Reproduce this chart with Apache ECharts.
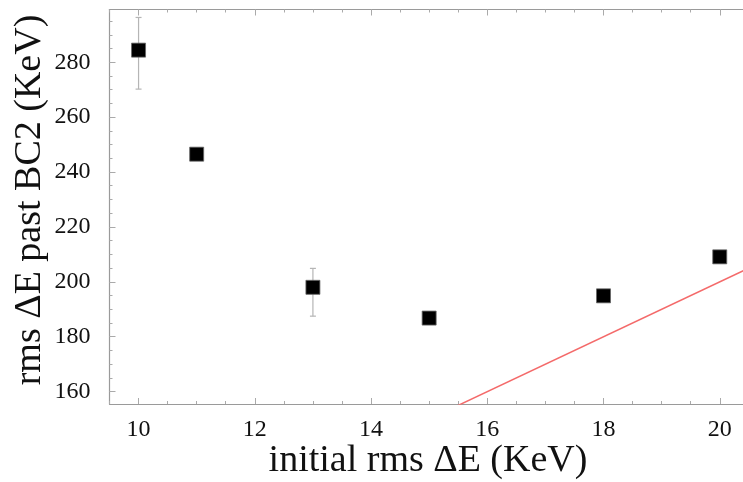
<!DOCTYPE html>
<html><head><meta charset="utf-8">
<script src="https://cdn.jsdelivr.net/npm/echarts@6/dist/echarts.min.js"></script>
<style>html,body{margin:0;padding:0;background:#fff}#c{width:743px;height:482px}</style>
</head><body><div id="c"></div>
<script>
// ---- data ----
const xValues = [10, 11, 13, 15, 18, 20];
const yValues = [284.4, 246.5, 198.0, 186.8, 194.9, 209.1];
const errLow  = [270.2, 245.3, 187.5, null, null, null];
const errHigh = [296.3, 247.6, 204.9, null, null, null];
const xTickLabels = [10, 12, 14, 16, 18, 20];
const yTickLabels = [160, 180, 200, 220, 240, 260, 280];
const xMinorTicks = [9.5, 10, 10.5, 11, 11.5, 12, 12.5, 13, 13.5, 14, 14.5, 15, 15.5, 16, 16.5, 17, 17.5, 18, 18.5, 19, 19.5, 20];
const yMinorTicks = [160, 165, 170, 175, 180, 185, 190, 195, 200, 205, 210, 215, 220, 225, 230, 235, 240, 245, 250, 255, 260, 265, 270, 275, 280, 285, 290, 295];
const refLineX = [15, 21];
const refLineY = [150, 210];
const xTitle = 'initial rms ΔE (KeV)';
const yTitle = 'rms ΔE past BC2 (KeV)';

const FONT = 'Liberation Serif';
const X_MIN = 9.5, X_MAX = 20.4, Y_MIN = 155.5, Y_MAX = 299.2;
const axisGray = '#9a9a9a';
const tickGray = '#aaaaaa';

function xAx(pos, custom, len, labels, line) {
  return {
    type: 'value', position: pos, min: X_MIN, max: X_MAX,
    axisLine: { show: line, onZero: false, lineStyle: { color: axisGray, width: 1.2 } },
    axisTick: { show: true, inside: true, length: len, customValues: custom, lineStyle: { color: tickGray } },
    axisLabel: labels ? { show: true, customValues: xTickLabels, margin: 14, fontFamily: FONT, fontSize: 24, color: '#111' } : { show: false },
    splitLine: { show: false }
  };
}
function yAx(custom, len, labels, line) {
  return {
    type: 'value', position: 'left', min: Y_MIN, max: Y_MAX,
    axisLine: { show: line, onZero: false, lineStyle: { color: axisGray, width: 1.2 } },
    axisTick: { show: true, inside: true, length: len, customValues: custom, lineStyle: { color: tickGray } },
    axisLabel: labels ? { show: true, customValues: yTickLabels, margin: 19, fontFamily: FONT, fontSize: 24, color: '#111', padding: [6, 0, 0, 0] } : { show: false },
    splitLine: { show: false }
  };
}

const chart = echarts.init(document.getElementById('c'));
chart.setOption({
  animation: false,
  backgroundColor: '#fff',
  grid: { left: 109.5, top: 9.5, width: 635, height: 394.5 },
  xAxis: [
    xAx('bottom', xTickLabels, 6, true, true),
    xAx('bottom', xMinorTicks, 3, false, false),
    xAx('top', xTickLabels, 6, false, true),
    xAx('top', xMinorTicks, 3, false, false)
  ],
  yAxis: [
    yAx(yTickLabels, 6, true, true),
    yAx(yMinorTicks, 3, false, false)
  ],
  graphic: [
    { type: 'text', x: 428, y: 461, style: { text: xTitle, x: 0, y: 0, align: 'center', verticalAlign: 'middle', font: '38px "Liberation Serif"', fill: '#111' } },
    { type: 'text', x: 30, y: 200, rotation: Math.PI / 2, style: { text: yTitle, x: 0, y: 0, align: 'center', verticalAlign: 'middle', font: '38px "Liberation Serif"', fill: '#111' } }
  ],
  series: [
    {
      type: 'line', xAxisIndex: 0, yAxisIndex: 0, clip: true, showSymbol: false, symbol: 'none',
      data: refLineX.map((x, i) => [x, refLineY[i]]),
      lineStyle: { color: '#f46a6a', width: 1.5 }, z: 1
    },
    {
      type: 'custom', xAxisIndex: 0, yAxisIndex: 0, z: 2,
      data: xValues.map((x, i) => [x, errLow[i], errHigh[i]]).filter(d => d[1] != null),
      renderItem: function (params, api) {
        const x = api.value(0);
        const lo = api.coord([x, api.value(1)]);
        const hi = api.coord([x, api.value(2)]);
        const st = { stroke: '#b5b5b5', lineWidth: 1.2 };
        return {
          type: 'group', children: [
            { type: 'line', shape: { x1: lo[0], y1: lo[1], x2: hi[0], y2: hi[1] }, style: st },
            { type: 'line', shape: { x1: lo[0] - 3, y1: lo[1], x2: lo[0] + 3, y2: lo[1] }, style: st },
            { type: 'line', shape: { x1: hi[0] - 3, y1: hi[1], x2: hi[0] + 3, y2: hi[1] }, style: st }
          ]
        };
      }
    },
    {
      type: 'scatter', xAxisIndex: 0, yAxisIndex: 0, z: 3,
      symbol: 'rect', symbolSize: 14,
      data: xValues.map((x, i) => [x, yValues[i]]),
      itemStyle: { color: '#000', borderColor: '#666', borderWidth: 0.8, opacity: 1 }
    }
  ]
});
</script></body></html>
